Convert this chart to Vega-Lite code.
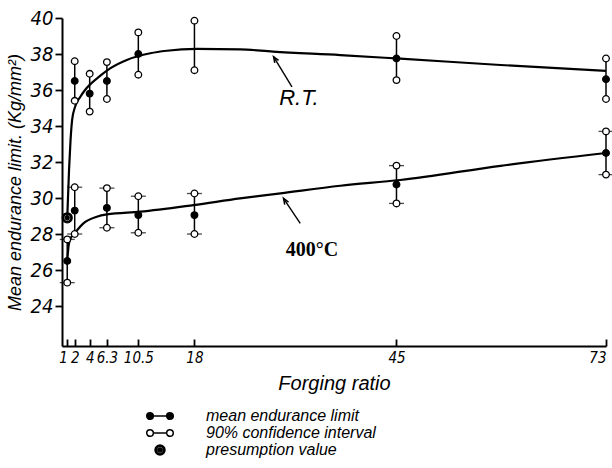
{
  "$schema": "https://vega.github.io/schema/vega-lite/v6.json",
  "autosize": "none",
  "width": 544,
  "height": 328,
  "padding": {"left": 62, "top": 18, "right": 6, "bottom": 122},
  "background": "white",
  "config": {
    "view": {"stroke": null},
    "axis": {"grid": false, "domainColor": "black", "domainWidth": 2, "tickColor": "black", "tickWidth": 1.8, "labelColor": "black", "titleColor": "black", "labelOverlap": false, "labelBound": false}
  },
  "resolve": {"scale": {"shape": "independent", "fill": "independent"}, "legend": {"shape": "independent", "fill": "independent"}},
  "datasets": {
    "curves": [
      {"series": "R.T.", "ratio": 1, "y": 28.9},
      {"series": "R.T.", "ratio": 1.04, "y": 29.33},
      {"series": "R.T.", "ratio": 1.24, "y": 31.56},
      {"series": "R.T.", "ratio": 1.44, "y": 33.2},
      {"series": "R.T.", "ratio": 1.65, "y": 34.33},
      {"series": "R.T.", "ratio": 2.05, "y": 35.07},
      {"series": "R.T.", "ratio": 2.71, "y": 35.6},
      {"series": "R.T.", "ratio": 3.38, "y": 36.0},
      {"series": "R.T.", "ratio": 5.39, "y": 36.78},
      {"series": "R.T.", "ratio": 6.73, "y": 37.2},
      {"series": "R.T.", "ratio": 8.96, "y": 37.67},
      {"series": "R.T.", "ratio": 12.1, "y": 38.04},
      {"series": "R.T.", "ratio": 14.3, "y": 38.18},
      {"series": "R.T.", "ratio": 18.3, "y": 38.28},
      {"series": "R.T.", "ratio": 24.1, "y": 38.26},
      {"series": "R.T.", "ratio": 28.5, "y": 38.13},
      {"series": "R.T.", "ratio": 37.5, "y": 37.94},
      {"series": "R.T.", "ratio": 45.5, "y": 37.74},
      {"series": "R.T.", "ratio": 58.9, "y": 37.39},
      {"series": "R.T.", "ratio": 73, "y": 37.06},
      {"series": "400°C", "ratio": 1, "y": 26.5},
      {"series": "400°C", "ratio": 1.2, "y": 27.4},
      {"series": "400°C", "ratio": 1.5, "y": 27.8},
      {"series": "400°C", "ratio": 2, "y": 28.05},
      {"series": "400°C", "ratio": 3.16, "y": 28.59},
      {"series": "400°C", "ratio": 4.95, "y": 28.96},
      {"series": "400°C", "ratio": 6.29, "y": 29.09},
      {"series": "400°C", "ratio": 10.74, "y": 29.24},
      {"series": "400°C", "ratio": 17.87, "y": 29.61},
      {"series": "400°C", "ratio": 24.1, "y": 29.98},
      {"series": "400°C", "ratio": 29.5, "y": 30.26},
      {"series": "400°C", "ratio": 37.5, "y": 30.68},
      {"series": "400°C", "ratio": 45.5, "y": 31.0},
      {"series": "400°C", "ratio": 58.9, "y": 31.79},
      {"series": "400°C", "ratio": 73, "y": 32.5}
    ],
    "bars": [
      {"series": "R.T.", "ratio": 2, "lo": 35.4, "hi": 37.6},
      {"series": "R.T.", "ratio": 4, "lo": 34.8, "hi": 36.9},
      {"series": "R.T.", "ratio": 6.3, "lo": 35.5, "hi": 37.55},
      {"series": "R.T.", "ratio": 10.5, "lo": 36.85, "hi": 39.2},
      {"series": "R.T.", "ratio": 18, "lo": 37.1, "hi": 39.85},
      {"series": "R.T.", "ratio": 45, "lo": 36.55, "hi": 39.0},
      {"series": "R.T.", "ratio": 73, "lo": 35.5, "hi": 37.75},
      {"series": "400°C", "ratio": 1, "lo": 25.3, "hi": 27.7},
      {"series": "400°C", "ratio": 2, "lo": 28.0, "hi": 30.6},
      {"series": "400°C", "ratio": 6.3, "lo": 28.35, "hi": 30.55},
      {"series": "400°C", "ratio": 10.5, "lo": 28.07, "hi": 30.1},
      {"series": "400°C", "ratio": 18, "lo": 28.0, "hi": 30.25},
      {"series": "400°C", "ratio": 45, "lo": 29.7, "hi": 31.8},
      {"series": "400°C", "ratio": 73, "lo": 31.3, "hi": 33.7}
    ],
    "points": [
      {"series": "R.T.", "ratio": 2, "value": 36.5, "kind": "mean endurance limit"},
      {"series": "R.T.", "ratio": 2, "value": 35.4, "kind": "90% confidence interval"},
      {"series": "R.T.", "ratio": 2, "value": 37.6, "kind": "90% confidence interval"},
      {"series": "R.T.", "ratio": 4, "value": 35.8, "kind": "mean endurance limit"},
      {"series": "R.T.", "ratio": 4, "value": 34.8, "kind": "90% confidence interval"},
      {"series": "R.T.", "ratio": 4, "value": 36.9, "kind": "90% confidence interval"},
      {"series": "R.T.", "ratio": 6.3, "value": 36.5, "kind": "mean endurance limit"},
      {"series": "R.T.", "ratio": 6.3, "value": 35.5, "kind": "90% confidence interval"},
      {"series": "R.T.", "ratio": 6.3, "value": 37.55, "kind": "90% confidence interval"},
      {"series": "R.T.", "ratio": 10.5, "value": 38.0, "kind": "mean endurance limit"},
      {"series": "R.T.", "ratio": 10.5, "value": 36.85, "kind": "90% confidence interval"},
      {"series": "R.T.", "ratio": 10.5, "value": 39.2, "kind": "90% confidence interval"},
      {"series": "R.T.", "ratio": 18, "value": 37.1, "kind": "90% confidence interval"},
      {"series": "R.T.", "ratio": 18, "value": 39.85, "kind": "90% confidence interval"},
      {"series": "R.T.", "ratio": 45, "value": 37.75, "kind": "mean endurance limit"},
      {"series": "R.T.", "ratio": 45, "value": 36.55, "kind": "90% confidence interval"},
      {"series": "R.T.", "ratio": 45, "value": 39.0, "kind": "90% confidence interval"},
      {"series": "R.T.", "ratio": 73, "value": 36.6, "kind": "mean endurance limit"},
      {"series": "R.T.", "ratio": 73, "value": 35.5, "kind": "90% confidence interval"},
      {"series": "R.T.", "ratio": 73, "value": 37.75, "kind": "90% confidence interval"},
      {"series": "400°C", "ratio": 1, "value": 26.5, "kind": "mean endurance limit"},
      {"series": "400°C", "ratio": 1, "value": 25.3, "kind": "90% confidence interval"},
      {"series": "400°C", "ratio": 1, "value": 27.7, "kind": "90% confidence interval"},
      {"series": "400°C", "ratio": 2, "value": 29.3, "kind": "mean endurance limit"},
      {"series": "400°C", "ratio": 2, "value": 28.0, "kind": "90% confidence interval"},
      {"series": "400°C", "ratio": 2, "value": 30.6, "kind": "90% confidence interval"},
      {"series": "400°C", "ratio": 6.3, "value": 29.45, "kind": "mean endurance limit"},
      {"series": "400°C", "ratio": 6.3, "value": 28.35, "kind": "90% confidence interval"},
      {"series": "400°C", "ratio": 6.3, "value": 30.55, "kind": "90% confidence interval"},
      {"series": "400°C", "ratio": 10.5, "value": 29.05, "kind": "mean endurance limit"},
      {"series": "400°C", "ratio": 10.5, "value": 28.07, "kind": "90% confidence interval"},
      {"series": "400°C", "ratio": 10.5, "value": 30.1, "kind": "90% confidence interval"},
      {"series": "400°C", "ratio": 18, "value": 29.05, "kind": "mean endurance limit"},
      {"series": "400°C", "ratio": 18, "value": 28.0, "kind": "90% confidence interval"},
      {"series": "400°C", "ratio": 18, "value": 30.25, "kind": "90% confidence interval"},
      {"series": "400°C", "ratio": 45, "value": 30.75, "kind": "mean endurance limit"},
      {"series": "400°C", "ratio": 45, "value": 29.7, "kind": "90% confidence interval"},
      {"series": "400°C", "ratio": 45, "value": 31.8, "kind": "90% confidence interval"},
      {"series": "400°C", "ratio": 73, "value": 32.5, "kind": "mean endurance limit"},
      {"series": "400°C", "ratio": 73, "value": 31.3, "kind": "90% confidence interval"},
      {"series": "400°C", "ratio": 73, "value": 33.7, "kind": "90% confidence interval"},
      {"series": "R.T.", "ratio": 1, "value": 28.9, "kind": "presumption value"}
    ],
    "legendkeys": [
      {"kind": "mean endurance limit", "ratio": 90, "value": 30},
      {"kind": "90% confidence interval", "ratio": 90, "value": 30},
      {"kind": "presumption value", "ratio": 90, "value": 30}
    ],
    "arrows": [
      {"series": "R.T.", "ratio": 31.03, "y": 36.18, "ratio2": 28.57, "y2": 37.85},
      {"series": "400°C", "ratio": 32.14, "y": 28.59, "ratio2": 29.9, "y2": 29.98}
    ],
    "labels": [
      {"series": "R.T.", "ratio": 31.96, "y": 35.54, "text": "R.T."},
      {"series": "400°C", "ratio": 33.7, "y": 27.11, "text": "400°C"}
    ]
  },
  "layer": [
    {
      "data": {"name": "curves"},
      "mark": {"type": "line", "color": "black", "strokeWidth": 2.2, "interpolate": "monotone"},
      "encoding": {
        "x": {"field": "ratio", "type": "quantitative", "scale": {"domain": [0.3, 73], "nice": false, "zero": false},
          "axis": {"values": [1, 2, 4, 6.3, 10.5, 18, 45, 73], "labelExpr": "'' + datum.value", "title": "Forging ratio", "tickSize": -7, "labelPadding": 11, "labelFont": "Liberation Sans Narrow, DejaVu Sans Condensed, Liberation Sans", "labelFontStyle": "italic", "labelFontSize": 15,
            "labelAlign": {"condition": {"test": "datum.value === 1 || datum.value === 73", "value": "right"}, "value": "center"},
            "titleFont": "Liberation Sans", "titleFontStyle": "italic", "titleFontWeight": "normal", "titleFontSize": 20, "titlePadding": 8}},
        "y": {"field": "y", "type": "quantitative", "scale": {"domain": [21.78, 40], "nice": false, "zero": false},
          "axis": {"values": [24, 26, 28, 30, 32, 34, 36, 38, 40], "title": "Mean endurance limit. (Kg/mm²)", "tickSize": 7, "labelPadding": 2, "labelFont": "Liberation Sans Narrow, DejaVu Sans Condensed, Liberation Sans", "labelFontStyle": "italic", "labelFontSize": 20, "titleFont": "Liberation Sans", "titleFontStyle": "italic", "titleFontWeight": "normal", "titleFontSize": 18, "titlePadding": 6}},
        "detail": {"field": "series"}
      }
    },
    {
      "data": {"name": "bars"},
      "mark": {"type": "rule", "color": "black", "strokeWidth": 1.5},
      "encoding": {
        "x": {"field": "ratio", "type": "quantitative"},
        "y": {"field": "lo", "type": "quantitative"},
        "y2": {"field": "hi"}
      }
    },
    {
      "data": {"name": "points"},
      "transform": [{"filter": "datum.series === '400°C' && datum.kind === '90% confidence interval'"}],
      "mark": {"type": "tick", "orient": "horizontal", "color": "black", "size": 15, "thickness": 1.3},
      "encoding": {
        "x": {"field": "ratio", "type": "quantitative"},
        "y": {"field": "value", "type": "quantitative"}
      }
    },
    {
      "data": {"name": "points"},
      "mark": {"type": "point", "filled": true, "size": 44, "stroke": "black", "strokeWidth": 1.3, "opacity": 1},
      "encoding": {
        "x": {"field": "ratio", "type": "quantitative"},
        "y": {"field": "value", "type": "quantitative"},
        "shape": {"field": "kind", "type": "nominal",
          "scale": {"domain": ["mean endurance limit", "90% confidence interval", "presumption value"], "range": ["circle", "circle", "M -1.5,0 A 1.5,1.5 0 1,0 1.5,0 A 1.5,1.5 0 1,0 -1.5,0 Z M -1.1,0 A 1.1,1.1 0 1,1 1.1,0 A 1.1,1.1 0 1,1 -1.1,0 Z M -0.6,0 A 0.6,0.6 0 1,0 0.6,0 A 0.6,0.6 0 1,0 -0.6,0 Z"]},
          "legend": null},
        "fill": {"field": "kind", "type": "nominal", "scale": {"domain": ["mean endurance limit", "90% confidence interval", "presumption value"], "range": ["black", "white", "black"]}, "legend": null}
      }
    },
    {
      "data": {"name": "legendkeys"},
      "mark": {"type": "point", "filled": true, "clip": true, "size": 44, "stroke": "black", "strokeWidth": 1.3, "opacity": 1},
      "encoding": {
        "x": {"field": "ratio", "type": "quantitative"},
        "y": {"field": "value", "type": "quantitative"},
        "shape": {"field": "kind", "type": "nominal",
          "scale": {"domain": ["mean endurance limit", "90% confidence interval", "presumption value"], "range": ["M -4,0 A 1,1 0 1,0 -2,0 A 1,1 0 1,0 -4,0 Z M 2,0 A 1,1 0 1,0 4,0 A 1,1 0 1,0 2,0 Z M -2,0 L 2,0", "M -4,0 A 1,1 0 1,0 -2,0 A 1,1 0 1,0 -4,0 Z M 2,0 A 1,1 0 1,0 4,0 A 1,1 0 1,0 2,0 Z M -2,0 L 2,0", "M -1.5,0 A 1.5,1.5 0 1,0 1.5,0 A 1.5,1.5 0 1,0 -1.5,0 Z M -1.1,0 A 1.1,1.1 0 1,1 1.1,0 A 1.1,1.1 0 1,1 -1.1,0 Z M -0.6,0 A 0.6,0.6 0 1,0 0.6,0 A 0.6,0.6 0 1,0 -0.6,0 Z"]},
          "legend": {"title": null, "orient": "none", "legendX": 90, "legendY": 390, "padding": 0, "rowPadding": 1, "symbolSize": 44, "labelOffset": 38, "labelFont": "Liberation Sans", "labelFontStyle": "italic", "labelFontSize": 16, "labelColor": "black", "labelLimit": 400}},
        "fill": {"field": "kind", "type": "nominal",
          "scale": {"domain": ["mean endurance limit", "90% confidence interval", "presumption value"], "range": ["black", "white", "black"]},
          "legend": {"title": null, "orient": "none", "legendX": 90, "legendY": 390, "padding": 0, "rowPadding": 1, "symbolSize": 44, "labelOffset": 38, "labelFont": "Liberation Sans", "labelFontStyle": "italic", "labelFontSize": 16, "labelColor": "black", "labelLimit": 400}}
      }
    },
    {
      "data": {"name": "arrows"},
      "mark": {"type": "rule", "color": "black", "strokeWidth": 1.4},
      "encoding": {
        "x": {"field": "ratio", "type": "quantitative"},
        "y": {"field": "y", "type": "quantitative"},
        "x2": {"field": "ratio2"},
        "y2": {"field": "y2"}
      }
    },
    {
      "data": {"name": "arrows"},
      "mark": {"type": "point", "filled": false, "shape": "M -0.5,1.3 L 0,0 L 0.5,1.3", "size": 81, "angle": -32.5, "stroke": "black", "strokeWidth": 1.5, "opacity": 1},
      "encoding": {
        "x": {"field": "ratio2", "type": "quantitative"},
        "y": {"field": "y2", "type": "quantitative"}
      }
    },
    {
      "data": {"name": "labels"},
      "transform": [{"filter": "datum.series === 'R.T.'"}],
      "mark": {"type": "text", "font": "Liberation Sans", "fontStyle": "italic", "fontSize": 22, "color": "black", "align": "center", "baseline": "middle"},
      "encoding": {
        "x": {"field": "ratio", "type": "quantitative"},
        "y": {"field": "y", "type": "quantitative"},
        "text": {"field": "text"}
      }
    },
    {
      "data": {"name": "labels"},
      "transform": [{"filter": "datum.series === '400°C'"}],
      "mark": {"type": "text", "font": "Liberation Serif", "fontWeight": "bold", "fontSize": 20, "color": "black", "align": "center", "baseline": "middle"},
      "encoding": {
        "x": {"field": "ratio", "type": "quantitative"},
        "y": {"field": "y", "type": "quantitative"},
        "text": {"field": "text"}
      }
    }
  ]
}
